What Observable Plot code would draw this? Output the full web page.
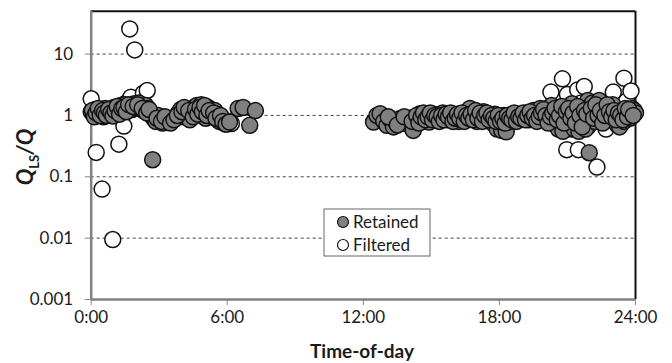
<!DOCTYPE html>
<html><head><meta charset="utf-8">
<script src="https://cdn.jsdelivr.net/npm/d3@7"></script>
<script src="https://cdn.jsdelivr.net/npm/@observablehq/plot@0.6"></script>
<style>body{margin:0;background:#fff}</style>
</head><body><div id="chart"></div>
<script>
// Retained points: time-of-day in hours, Q_LS/Q
const retainedHours = [0.00,0.10,0.18,0.27,0.35,0.45,0.55,0.62,0.72,0.82,0.92,1.00,1.10,1.20,1.30,1.40,1.50,1.60,1.70,1.80,1.90,2.00,2.10,2.20,2.30,2.40,2.50,2.60,2.71,2.75,2.85,2.95,3.05,3.15,3.30,3.40,3.55,3.70,3.85,3.95,4.05,4.15,4.25,4.35,4.45,4.55,4.65,4.75,4.85,4.95,5.05,5.15,5.25,5.35,5.45,5.55,5.65,5.75,5.85,6.05,6.48,6.70,6.99,7.24,
0.05,0.14,0.22,0.31,0.40,0.50,0.58,0.67,0.77,0.87,0.96,1.05,1.15,1.25,1.35,1.45,1.55,1.65,1.85,2.05,2.25,2.45,2.55,2.90,3.10,3.25,3.50,3.65,3.80,4.00,4.10,4.30,4.50,4.60,4.70,4.80,4.90,5.00,5.10,5.20,5.40,5.50,5.70,5.80,5.95,6.10,
12.45,12.60,12.74,12.90,13.04,13.20,13.33,13.45,13.60,13.75,13.90,14.05,14.20,14.30,14.40,14.50,14.60,14.70,14.80,14.90,15.00,15.10,15.20,15.30,15.40,15.50,15.60,15.70,15.80,15.90,16.00,16.10,16.20,16.30,16.40,16.50,16.60,16.70,16.80,16.90,17.00,17.10,17.20,17.30,17.40,17.50,17.60,17.70,17.80,17.90,18.00,18.10,18.20,18.30,18.40,18.50,18.60,18.70,18.80,18.90,19.00,19.10,19.20,19.30,19.40,19.50,19.60,19.70,19.80,19.90,20.00,20.10,20.20,20.30,20.40,20.50,20.60,20.70,20.80,20.90,21.00,21.10,21.20,21.30,21.40,21.50,21.60,21.70,21.80,21.90,21.96,22.00,22.10,22.20,22.30,22.40,22.50,22.60,22.70,22.80,22.90,23.00,23.10,23.20,23.30,23.40,23.50,23.60,23.75,23.85,23.95,24.00,
13.10,13.50,13.80,14.15,14.35,14.45,14.55,14.65,14.75,14.85,14.95,15.05,15.15,15.25,15.35,15.45,15.55,15.65,15.75,15.85,15.95,16.05,16.15,16.25,16.35,16.45,16.55,16.65,16.75,16.85,16.95,17.05,17.15,17.25,17.35,17.45,17.55,17.65,17.75,17.85,17.95,18.05,18.15,18.25,18.35,18.45,18.55,18.65,18.75,18.85,18.95,19.05,19.15,19.25,19.35,19.45,19.55,19.65,19.75,19.85,19.95,20.05,20.15,20.25,20.35,20.45,20.55,20.65,20.75,20.85,20.95,21.05,21.15,21.25,21.35,21.45,21.55,21.65,21.75,21.85,22.05,22.15,22.25,22.35,22.45,22.55,22.65,22.75,22.85,22.95,23.05,23.15,23.25,23.35,23.45,23.55,23.65,23.70,23.90];
const retainedValues = [1.15,1.05,1.25,1.00,1.20,1.10,0.95,1.30,1.15,1.05,1.20,1.35,1.10,1.25,1.45,1.20,1.50,1.30,1.40,1.25,1.55,1.35,1.60,1.40,1.20,1.45,1.30,1.05,0.19,0.90,0.80,1.00,0.85,0.75,0.90,0.80,0.85,0.90,1.10,1.25,0.95,1.20,1.05,0.85,1.30,1.10,1.45,1.20,1.50,1.30,0.90,1.35,1.10,0.95,1.20,1.05,0.80,0.85,0.75,0.80,1.30,1.35,0.69,1.20,
1.20,0.95,1.10,1.30,1.00,1.20,1.10,1.00,1.25,1.10,0.98,1.20,1.40,1.05,1.30,1.35,1.15,1.50,1.40,1.50,1.30,1.10,1.25,0.90,0.80,0.95,0.75,0.85,1.00,1.15,1.35,1.20,0.95,1.25,1.05,1.35,1.15,1.45,1.00,1.20,1.10,0.90,1.00,0.80,0.72,0.78,
0.78,1.00,1.07,0.80,0.69,0.85,0.65,0.75,0.88,0.80,0.73,0.90,0.57,0.85,0.95,1.07,0.80,0.90,1.00,0.78,0.95,1.05,0.85,1.00,0.90,1.10,0.95,0.85,1.00,0.90,1.05,0.95,0.80,1.00,0.90,1.10,0.85,1.30,0.95,1.05,0.80,1.00,0.90,1.15,0.85,1.00,0.95,0.75,1.05,0.60,0.90,0.57,1.00,0.54,0.85,0.80,1.00,0.90,1.05,0.85,1.00,0.95,1.10,0.85,1.00,1.20,0.90,1.10,1.30,1.00,0.85,1.20,1.10,1.45,0.90,1.00,0.60,1.20,0.55,1.30,1.00,0.80,1.55,0.60,1.10,0.55,1.30,0.90,0.60,1.75,0.247,1.00,1.60,0.80,1.20,1.75,0.90,1.40,1.10,1.30,0.85,1.50,1.00,0.70,0.65,1.20,0.80,1.10,0.90,1.30,1.20,1.10,
0.95,0.70,0.95,0.80,1.00,0.75,0.95,1.10,0.85,0.95,1.10,0.85,1.00,0.95,0.80,1.00,0.85,1.05,0.95,1.10,0.80,0.90,1.05,0.90,1.10,0.80,1.00,0.90,1.05,0.85,1.20,0.90,1.10,0.80,1.00,1.10,0.85,1.00,0.90,0.80,1.00,0.80,0.90,0.75,1.00,0.90,0.85,1.10,0.80,0.95,0.90,1.10,0.85,1.00,1.15,0.90,1.00,0.80,0.95,1.10,1.25,1.00,0.75,0.95,1.10,1.30,0.85,1.00,1.40,0.75,1.15,1.30,0.90,1.10,0.75,1.40,1.00,0.65,1.20,1.05,1.30,0.90,1.50,1.00,1.20,0.75,1.00,1.50,1.15,0.95,1.20,0.85,1.10,1.00,0.85,1.30,0.95,1.25,1.00];
// Filtered points
const filteredHours = [0.00,0.22,0.48,0.95,1.22,1.44,1.55,1.70,1.75,1.92,2.30,2.47,5.92,6.18,
19.90,20.10,20.27,20.50,20.78,20.90,20.97,21.00,21.20,21.45,21.48,21.60,21.74,21.90,22.30,22.50,22.70,22.90,23.02,23.30,23.49,23.60,23.80];
const filteredValues = [1.87,0.25,0.063,0.0095,0.34,0.67,1.6,25.7,1.98,11.7,2.3,2.55,0.82,0.74,
0.85,1.3,2.4,0.7,3.95,1.1,0.277,2.2,0.6,2.6,0.277,1.6,2.96,0.65,0.144,0.8,0.6,1.4,2.4,0.9,4.05,1.7,2.5];
const xTicks = [0,6,12,18,24];
const xTickLabels = ["0:00","6:00","12:00","18:00","24:00"];
const yTicks = [0.001,0.01,0.1,1,10];
const yTickLabels = ["0.001","0.01","0.1","1","10"];
const gridValues = [0.01,0.1,1,10];
const seriesNames = ["Retained","Filtered"];

const retained = retainedHours.map((h,i)=>({h, v: retainedValues[i]}));
const filtered = filteredHours.map((h,i)=>({h, v: filteredValues[i]}));

const plot = Plot.plot({
  width: 672, height: 363,
  marginLeft: 90.7, marginRight: 37, marginTop: 10.7, marginBottom: 64,
  style: {fontFamily: "Lato", fontSize: "17px", color: "#1a1a1a", background: "#fff"},
  x: {domain: [0,24], label: null},
  y: {type: "log", domain: [0.001, 50], label: null},
  marks: [
    Plot.ruleY(gridValues, {stroke: "#444", strokeWidth: 1, strokeDasharray: "3,3"}),
    Plot.axisY(yTicks, {anchor: "left", tickSize: 6, tickPadding: 12, stroke: "#888", fill: "#1a1a1a", label: null,
      tickFormat: d => yTickLabels[yTicks.indexOf(d)]}),
    Plot.axisX(xTicks, {anchor: "bottom", tickSize: 6, tickPadding: 5, stroke: "#888", fill: "#1a1a1a", label: null,
      tickFormat: d => xTickLabels[xTicks.indexOf(d)]}),
    Plot.ruleY([50], {stroke: "#111", strokeWidth: 2}),
    Plot.ruleX([24], {stroke: "#111", strokeWidth: 2}),
    Plot.ruleX([0], {stroke: "#808080", strokeWidth: 2.5}),
    Plot.ruleY([0.001], {stroke: "#808080", strokeWidth: 2.5}),
    Plot.dot(filtered, {x: "h", y: "v", r: 8, fill: "#fff", stroke: "#111", strokeWidth: 1.5}),
    Plot.dot(retained, {x: "h", y: "v", r: 8, fill: "#808080", stroke: "#111", strokeWidth: 1.5})
  ]
});
document.getElementById("chart").appendChild(plot);

const svg = d3.select(plot);
// Y axis title: Q_LS/Q
const yt = svg.append("text")
  .attr("transform", "translate(33,157) rotate(-90)")
  .attr("text-anchor", "middle")
  .attr("font-family", "Lato").attr("font-weight", "bold").attr("font-size", 22)
  .attr("fill", "#1a1a1a");
yt.append("tspan").attr("font-style", "italic").text("Q");
yt.append("tspan").attr("font-size", 13).attr("dy", 6).text("LS");
yt.append("tspan").attr("font-style", "italic").attr("dy", -6).text("/Q");
// X axis title
svg.append("text").attr("x", 362).attr("y", 358).attr("text-anchor", "middle")
  .attr("font-family", "Lato").attr("font-weight", "bold").attr("font-size", 19)
  .attr("fill", "#1a1a1a").text("Time-of-day");
// Legend
const lg = svg.append("g");
lg.append("rect").attr("x", 324).attr("y", 209).attr("width", 106).attr("height", 47)
  .attr("fill", "#fff").attr("stroke", "#666").attr("stroke-width", 1);
const lfills = ["#808080", "#fff"];
seriesNames.forEach((name, i) => {
  const cy = 222 + i * 23;
  lg.append("circle").attr("cx", 343).attr("cy", cy).attr("r", 5.5)
    .attr("fill", lfills[i]).attr("stroke", "#111").attr("stroke-width", 1.2);
  lg.append("text").attr("x", 353).attr("y", cy).attr("dy", "0.35em").attr("text-anchor", "start")
    .attr("font-family", "Lato").attr("font-size", 17).attr("fill", "#1a1a1a").text(name);
});
</script>
</body></html>
